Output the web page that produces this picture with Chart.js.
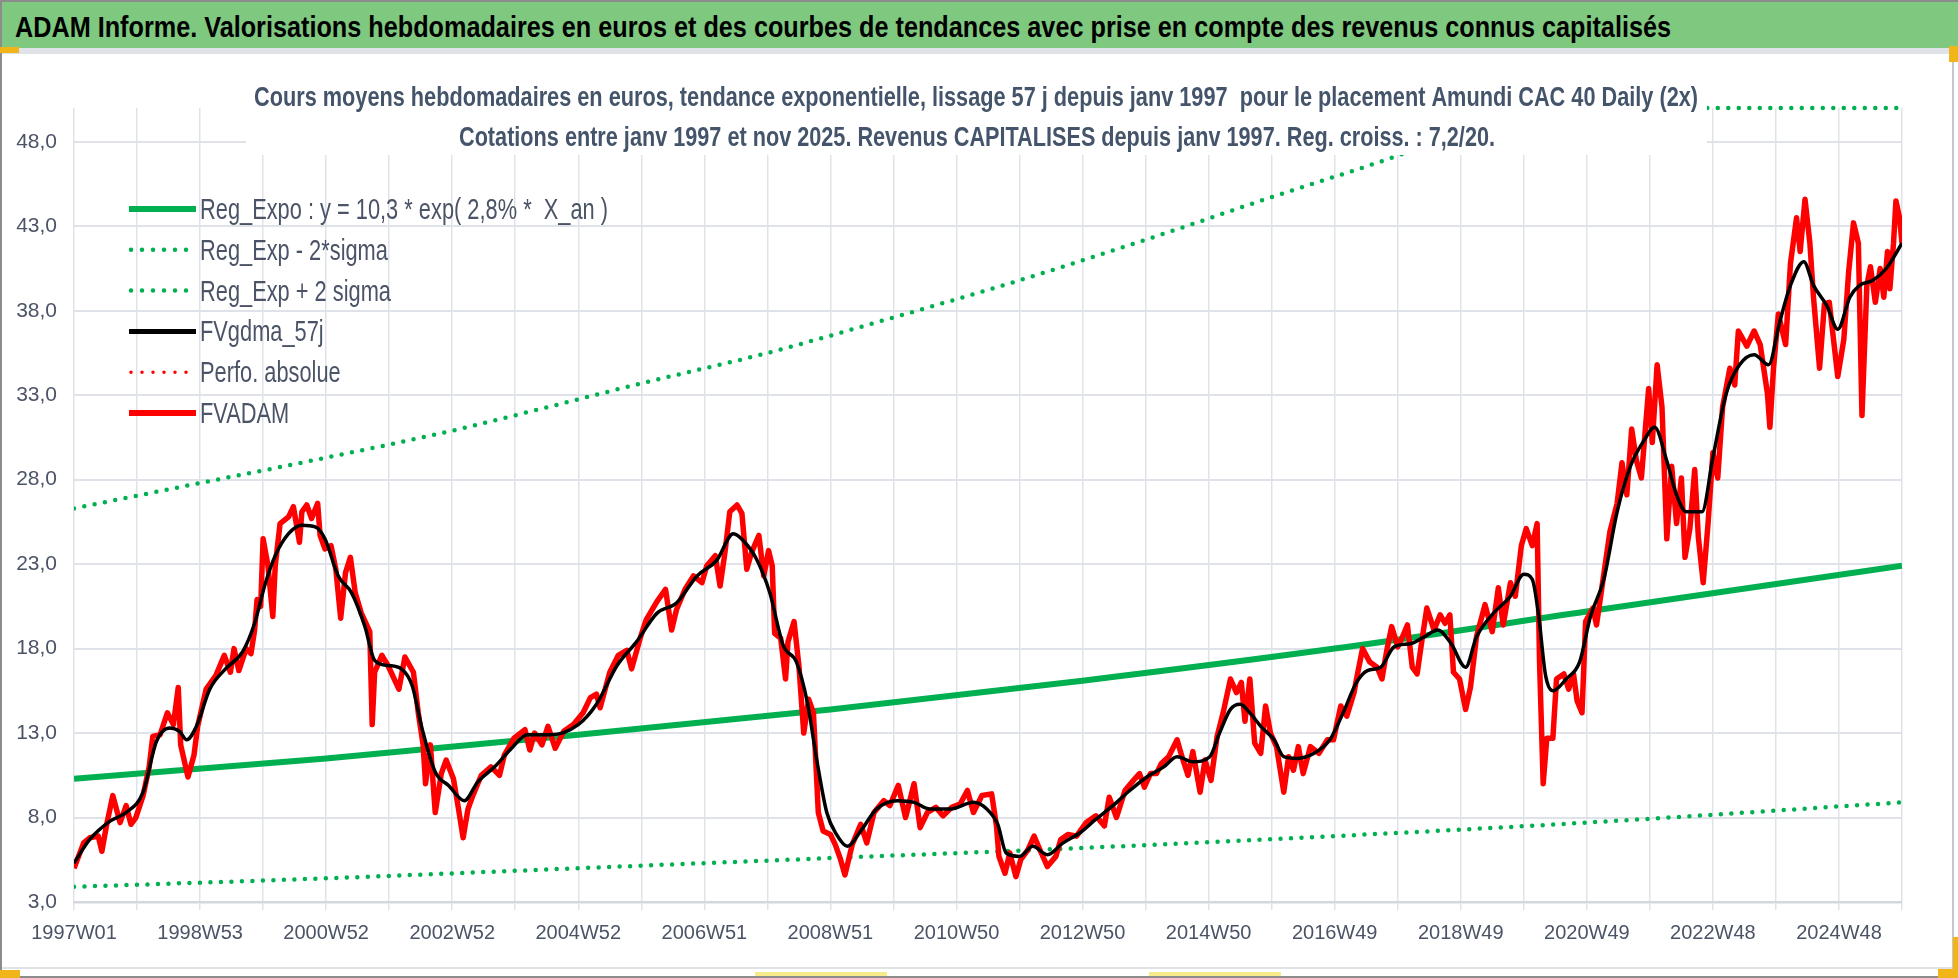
<!DOCTYPE html>
<html>
<head>
<meta charset="utf-8">
<title>ADAM Informe - Amundi CAC 40 Daily (2x)</title>
<script src="https://cdn.jsdelivr.net/npm/chart.js@4.4.1/dist/chart.umd.min.js"></script>
<style>
  html, body { margin: 0; padding: 0; background: #fff; overflow: hidden; }
  #wrap { position: relative; width: 1958px; height: 978px; }
  #c { position: absolute; left: 0; top: 0; }
  #header { position: absolute; left: 0; top: 0; width: 1958px; height: 48px; box-sizing: border-box;
            background: #7ec87f; border-top: 2px solid #8c8c8c; }
  #header span { position: absolute; left: 15px; top: 10px; white-space: nowrap; color: #000;
                 font: bold 30px 'Liberation Sans Narrow', 'Liberation Sans', sans-serif; line-height: 30px;
                 transform-origin: 0 0; }
  .bar { position: absolute; }
</style>
</head>
<body>
<div id="wrap">
  <canvas id="c" width="1958" height="978"></canvas>
  <div id="header"><span id="htext">ADAM Informe. Valorisations hebdomadaires en euros et des courbes de tendances avec prise en compte des revenus connus capitalisés</span></div>
  <div class="bar" style="left:0;top:48px;width:1958px;height:6px;background:#dfe3e8"></div>
  <div class="bar" style="left:0;top:0;width:2px;height:978px;background:#8c8c8c"></div>
  <div class="bar" style="left:1952px;top:48px;width:2px;height:930px;background:#c4c8cd"></div>
  <div class="bar" style="left:2px;top:967px;width:1950px;height:2px;background:#dfe3e8"></div>
  <div class="bar" style="left:0;top:976px;width:1958px;height:2px;background:#8c8c8c"></div>
  <div class="bar" style="left:0;top:47px;width:19px;height:6px;background:#f2b519"></div>
  <div class="bar" style="left:1949px;top:46px;width:9px;height:16px;background:#f2b519"></div>
  <div class="bar" style="left:1953px;top:937px;width:5px;height:41px;background:#f2b519"></div>
  <div class="bar" style="left:1938px;top:969px;width:20px;height:9px;background:#f2b519"></div>
  <div class="bar" style="left:0;top:970px;width:20px;height:8px;background:#f2b519"></div>
  <div class="bar" style="left:755px;top:972px;width:132px;height:4px;background:#f7ec8a"></div>
  <div class="bar" style="left:1149px;top:972px;width:132px;height:4px;background:#f7ec8a"></div>
</div>
<script>
// ================= DATA =================
const titleLines = [
  "Cours moyens hebdomadaires en euros, tendance exponentielle, lissage 57 j depuis janv 1997  pour le placement Amundi CAC 40 Daily (2x)",
  "Cotations entre janv 1997 et nov 2025. Revenus CAPITALISES depuis janv 1997. Reg. croiss. : 7,2/20."
];
const seriesLabels = [
  "Reg_Expo : y = 10,3 * exp( 2,8% *  X_an )",
  "Reg_Exp - 2*sigma",
  "Reg_Exp + 2 sigma",
  "FVgdma_57j",
  "Perfo. absolue",
  "FVADAM"
];

// x axis: week number since 1997W01, a label every 104 weeks
const xTickLabels = ["1997W01", "1998W53", "2000W52", "2002W52", "2004W52", "2006W51", "2008W51",
  "2010W50", "2012W50", "2014W50", "2016W49", "2018W49", "2020W49", "2022W48", "2024W48"];
const yTickValues = [3, 8, 13, 18, 23, 28, 33, 38, 43, 48];

// FVADAM (weekly price, red)
const adamWeeks = [
  0, 8, 13, 20, 23, 27, 32, 38, 43, 47,
  51, 57, 62, 65, 71, 77, 82, 86, 88, 94,
  99, 102, 109, 117, 124, 129, 132, 136, 142, 146,
  149, 151, 154, 156, 160, 164, 166, 170, 177, 181,
  186, 188, 192, 196, 201, 203, 207, 212, 216, 220,
  224, 228, 232, 237, 244, 246, 248, 254, 259, 268,
  273, 280, 284, 288, 290, 294, 298, 303, 307, 313,
  317, 321, 325, 329, 336, 344, 351, 355, 363, 372,
  376, 380, 386, 391, 397, 404, 412, 420, 426, 431,
  434, 442, 449, 456, 460, 467, 472, 481, 488, 493,
  497, 504, 511, 518, 522, 529, 533, 537, 541, 547,
  551, 555, 559, 565, 569, 573, 576, 578, 583, 587,
  589, 594, 598, 602, 606, 610, 614, 618, 624, 628,
  632, 636, 642, 649, 654, 660, 668, 673, 680, 686,
  693, 698, 704, 711, 717, 724, 731, 737, 742, 749,
  757, 761, 763, 768, 772, 777, 781, 787, 792, 798,
  803, 810, 814, 820, 827, 835, 843, 850, 854, 860,
  867, 874, 879, 883, 888, 893, 897, 903, 910, 914,
  919, 923, 929, 933, 938, 943, 948, 954, 959, 963,
  966, 970, 974, 979, 983, 987, 992, 998, 1002, 1006,
  1010, 1014, 1020, 1027, 1034, 1039, 1045, 1050, 1056, 1058,
  1063, 1069, 1075, 1079, 1083, 1087, 1092, 1096, 1100, 1104,
  1108, 1112, 1116, 1122, 1127, 1131, 1135, 1138, 1143, 1148,
  1152, 1157, 1164, 1170, 1175, 1179, 1185, 1189, 1194, 1198,
  1203, 1207, 1209, 1212, 1215, 1220, 1223, 1229, 1233, 1237,
  1240, 1244, 1247, 1253, 1256, 1262, 1267, 1273, 1277, 1281,
  1285, 1289, 1293, 1299, 1302, 1306, 1310, 1314, 1318, 1322,
  1326, 1329, 1333, 1337, 1340, 1344, 1348, 1352, 1356, 1360,
  1366, 1370, 1373, 1380, 1386, 1391, 1397, 1399, 1402, 1406,
  1412, 1416, 1421, 1424, 1428, 1432, 1435, 1440, 1444, 1448,
  1455, 1460, 1464, 1468, 1472, 1475, 1479, 1482, 1486, 1490,
  1493, 1496, 1498, 1501, 1503, 1506, 1508
];
const fvadam = [
  5.0, 6.5, 6.8, 6.9, 6.0, 7.6, 9.3, 7.7, 8.7, 7.6,
  8.0, 9.3, 11.0, 12.8, 12.9, 14.2, 13.5, 15.7, 12.3, 10.4,
  11.7, 13.4, 15.6, 16.4, 17.6, 16.6, 18.0, 16.7, 18.0, 17.7,
  19.1, 20.9, 20.5, 24.5, 22.9, 19.9, 22.9, 25.4, 25.8, 26.4,
  24.3, 26.1, 26.5, 25.7, 26.6, 24.7, 23.9, 24.1, 22.7, 19.8,
  22.5, 23.4, 21.3, 20.1, 19.0, 13.5, 16.6, 17.6, 17.0, 15.6,
  17.5, 16.6, 14.2, 12.3, 10.0, 12.3, 8.3, 10.6, 11.4, 10.3,
  8.6, 6.8, 8.5, 9.3, 10.5, 11.0, 10.5, 11.7, 12.7, 13.2,
  12.0, 13.0, 12.3, 13.4, 12.1, 13.1, 13.5, 14.2, 15.1, 15.3,
  14.5, 16.6, 17.6, 17.9, 16.8, 18.6, 19.7, 20.8, 21.5, 19.1,
  20.3, 21.5, 22.3, 21.9, 22.9, 23.5, 21.7, 23.7, 26.1, 26.5,
  26.0, 22.7, 23.7, 24.7, 22.3, 23.8, 22.9, 18.9, 18.6, 16.2,
  18.4, 19.6, 17.0, 13.0, 15.0, 14.2, 8.3, 7.2, 7.0, 6.4,
  5.6, 4.6, 6.4, 7.6, 6.5, 8.3, 9.0, 8.7, 9.9, 8.0,
  10.0, 7.4, 8.3, 8.6, 8.1, 8.6, 8.8, 9.6, 8.3, 9.3,
  9.4, 7.5, 5.7, 4.7, 5.9, 4.5, 5.5, 6.1, 6.9, 5.9,
  5.1, 5.7, 6.7, 7.0, 6.9, 7.7, 8.1, 7.5, 9.2, 8.0,
  9.6, 10.2, 10.6, 9.8, 10.6, 10.6, 11.2, 11.6, 12.6, 11.6,
  10.5, 11.9, 9.5, 11.4, 10.2, 12.8, 14.2, 16.2, 15.4, 16.0,
  13.7, 16.2, 12.4, 11.8, 14.6, 13.0, 12.2, 9.5, 11.6, 10.8,
  12.2, 10.6, 12.2, 11.8, 12.6, 12.6, 14.6, 14.0, 15.4, 16.2,
  18.0, 17.2, 16.9, 16.2, 17.9, 19.3, 18.1, 18.7, 19.4, 16.9,
  16.5, 18.5, 20.4, 19.1, 20.0, 19.5, 20.0, 16.6, 16.2, 14.4,
  15.7, 18.7, 20.6, 19.0, 21.6, 19.4, 21.9, 21.1, 24.1, 25.1,
  24.1, 25.4, 17.2, 10.0, 12.7, 12.7, 16.2, 16.5, 15.6, 16.5,
  14.9, 14.2, 19.6, 20.4, 19.4, 22.4, 24.9, 26.6, 29.0, 27.1,
  31.0, 29.1, 28.1, 33.4, 30.2, 34.8, 32.3, 24.5, 28.8, 25.4,
  28.1, 23.4, 25.1, 28.6, 24.6, 21.9, 25.4, 29.6, 28.1, 32.3,
  34.6, 33.6, 36.8, 35.9, 36.8, 36.0, 33.1, 31.1, 34.6, 37.8,
  36.0, 40.8, 43.5, 41.5, 44.6, 42.0, 38.8, 34.6, 38.4, 38.5,
  34.1, 36.3, 40.3, 43.2, 42.0, 31.8, 39.5, 40.6, 38.5, 40.5,
  38.8, 41.5, 39.3, 42.0, 44.5, 43.5, 42.0
];

// FVgdma_57j (smoothed, black)
const gdmaWeeks = [
  0, 13, 30, 43, 57, 68, 79, 87, 93, 101,
  112, 125, 139, 149, 158, 166, 177, 188, 199, 207,
  218, 229, 240, 248, 259, 270, 279, 287, 298, 309,
  322, 333, 347, 361, 374, 393, 416, 431, 448, 464,
  481, 497, 514, 530, 544, 552, 563, 574, 585, 596,
  605, 613, 621, 629, 638, 649, 662, 679, 693, 706,
  723, 742, 753, 762, 769, 780, 791, 803, 816, 830,
  843, 857, 871, 885, 899, 910, 923, 937, 945, 954,
  962, 970, 979, 990, 998, 1009, 1023, 1036, 1047, 1058,
  1067, 1078, 1089, 1103, 1114, 1125, 1136, 1148, 1157, 1171,
  1185, 1196, 1203, 1208, 1214, 1220, 1231, 1242, 1251, 1262,
  1273, 1284, 1295, 1304, 1314, 1322, 1330, 1343, 1352, 1363,
  1374, 1386, 1398, 1407, 1416, 1427, 1435, 1446, 1455, 1465,
  1473, 1484, 1495, 1508
];
const fvgdma = [
  5.3, 6.7, 7.8, 8.3, 9.5, 12.5, 13.3, 13.1, 12.6, 13.4,
  15.6, 16.8, 17.8, 19.5, 21.9, 23.5, 24.8, 25.3, 25.2, 24.5,
  22.3, 21.3, 19.3, 17.3, 17.0, 16.8, 15.8, 13.3, 10.7, 9.9,
  9.0, 10.1, 11.0, 12.1, 12.9, 12.9, 13.5, 14.7, 17.0, 18.4,
  20.1, 20.7, 22.3, 23.2, 24.8, 24.4, 23.3, 21.3, 18.2, 17.2,
  14.8, 11.3, 8.3, 7.0, 6.3, 7.2, 8.5, 9.0, 8.9, 8.5,
  8.5, 8.9, 8.5, 7.6, 5.9, 5.7, 6.3, 5.8, 6.5, 7.1,
  7.9, 8.7, 9.6, 10.4, 11.0, 11.6, 11.3, 11.6, 13.0, 14.4,
  14.7, 14.2, 13.4, 12.6, 11.6, 11.5, 11.8, 12.6, 14.2, 16.0,
  16.7, 16.9, 18.1, 18.3, 18.7, 19.1, 18.3, 16.9, 18.7, 20.1,
  21.1, 22.4, 22.1, 20.1, 16.4, 15.5, 16.2, 17.2, 19.9, 22.1,
  26.1, 28.8, 30.3, 31.1, 29.1, 27.1, 26.1, 26.1, 29.3, 33.1,
  34.8, 35.4, 34.8, 37.3, 39.5, 40.9, 39.5, 38.3, 36.9, 38.8,
  39.5, 39.8, 40.5, 42.0
];

// trend curves (green)
const trendWeeks = [0, 208, 416, 624, 832, 1040, 1248, 1508];
const regExpo   = [10.3, 11.5, 12.9, 14.4, 16.1, 18.0, 20.2, 22.9];
const regLow    = [3.9, 4.4, 5.0, 5.6, 6.2, 6.9, 7.7, 8.9];
const highWeeks = [0, 104, 208, 312, 380, 468, 572, 676, 780, 884, 987, 1093, 1197, 1352, 1508];
const regHigh   = [26.3, 27.8, 29.3, 30.9, 32.1, 33.7, 35.5, 37.6, 39.8, 42.2, 44.7, 47.2, 50.0, 50.0, 50.0];

// Perfo. absolue: in the legend only, no visible trace
const perfoAbsolue = [];

// ================= HELPERS =================
const NARROW = "'Liberation Sans Narrow', 'Liberation Sans', sans-serif";
const TITLE_COL = "#44546a";
const LABEL_COL = "#4b5366";
const GREEN = "#00b050";

function toPoints(xs, ys) {
  return xs.map((w, i) => ({ x: w, y: ys[i] }));
}

// draw text squeezed horizontally to a given width
function fitText(ctx, text, x, y, width, align) {
  const w = ctx.measureText(text).width;
  ctx.save();
  ctx.translate(x, y);
  ctx.scale(width / w, 1);
  ctx.textAlign = align;
  ctx.fillText(text, 0, 0);
  ctx.restore();
}

// header text fitted to its width
(function () {
  const span = document.getElementById("htext");
  const m = document.createElement("canvas").getContext("2d");
  m.font = "bold 30px " + NARROW;
  const w = m.measureText(span.textContent).width;
  span.style.transform = "scaleX(" + (1656 / w) + ")";
})();

// ================= OVERLAY: title box + legend =================
const legendWidths = [6, 4.5, 4.5, 5, 3.5, 6];

const overlay = {
  id: "overlay",
  afterDraw(chart) {
    const ctx = chart.ctx;
    ctx.save();

    // title box sits over the plot area like in the workbook
    ctx.fillStyle = "#fff";
    ctx.fillRect(246, 58, 1461, 97);
    ctx.fillStyle = TITLE_COL;
    ctx.font = "bold 28px " + NARROW;
    ctx.textBaseline = "alphabetic";
    fitText(ctx, titleLines[0], 976, 106, 1444, "center");
    fitText(ctx, titleLines[1], 977, 146, 1036, "center");

    // legend, top left inside the plot
    ctx.font = "29px " + NARROW;
    const scaleX = 408 / ctx.measureText(chart.data.datasets[0].label).width;
    chart.data.datasets.forEach((ds, i) => {
      const y = 209 + i * 40.8;
      ctx.beginPath();
      ctx.strokeStyle = ds.borderColor;
      ctx.lineWidth = legendWidths[i];
      if (ds.borderDash) {
        ctx.setLineDash([0, 11]);
        ctx.lineCap = "round";
        ctx.moveTo(131, y);
      } else {
        ctx.setLineDash([]);
        ctx.lineCap = "butt";
        ctx.moveTo(129, y);
      }
      ctx.lineTo(196, y);
      ctx.stroke();
      ctx.setLineDash([]);

      ctx.fillStyle = LABEL_COL;
      ctx.save();
      ctx.translate(200, y + 10);
      ctx.scale(scaleX, 1);
      ctx.textAlign = "left";
      ctx.fillText(ds.label, 0, 0);
      ctx.restore();
    });
    ctx.restore();
  }
};

// ================= CHART =================
const dotted = { borderDash: [0, 10.5], borderCapStyle: "round" };

const datasets = [
  { label: seriesLabels[0], data: toPoints(trendWeeks, regExpo), borderColor: GREEN, borderWidth: 6,
    cubicInterpolationMode: "monotone", order: 3 },
  Object.assign({ label: seriesLabels[1], data: toPoints(trendWeeks, regLow), borderColor: GREEN, borderWidth: 4.5,
    cubicInterpolationMode: "monotone", order: 4 }, dotted),
  Object.assign({ label: seriesLabels[2], data: toPoints(highWeeks, regHigh), borderColor: GREEN, borderWidth: 4.5,
    cubicInterpolationMode: "monotone", order: 4, clip: { left: 0, top: 3, right: 0, bottom: 0 } }, dotted),
  { label: seriesLabels[3], data: toPoints(gdmaWeeks, fvgdma), borderColor: "#000000", borderWidth: 3.5,
    cubicInterpolationMode: "monotone", order: 0 },
  { label: seriesLabels[4], data: perfoAbsolue, borderColor: "#ff0000", borderWidth: 3,
    borderDash: [0, 9], borderCapStyle: "round", order: 2 },
  { label: seriesLabels[5], data: toPoints(adamWeeks, fvadam), borderColor: "#ff0000", borderWidth: 5.5,
    borderJoinStyle: "round", order: 1 }
];

new Chart(document.getElementById("c"), {
  type: "line",
  data: { datasets },
  options: {
    responsive: false,
    animation: false,
    layout: { padding: { top: 108, right: 56, bottom: 36, left: 0 } },
    elements: { point: { radius: 0 }, line: { tension: 0, fill: false } },
    plugins: {
      legend: { display: false },
      title: { display: false },
      tooltip: { enabled: false }
    },
    scales: {
      x: {
        type: "linear",
        min: 0,
        max: 1508,
        afterBuildTicks: (scale) => {
          const t = [];
          for (let w = 0; w <= 1508; w += 52) t.push({ value: w });
          scale.ticks = t;
        },
        afterFit: (scale) => { scale.height = 40; },
        grid: { color: "#dfe3e9", lineWidth: 1.5, tickLength: 8, drawTicks: true },
        border: { color: "#d3d7de", width: 2.5 },
        ticks: {
          autoSkip: false, maxRotation: 0, minRotation: 0, padding: 11,
          color: LABEL_COL, font: { family: NARROW, size: 20 },
          callback: (v) => (v % 104 === 0 ? xTickLabels[v / 104] : "")
        }
      },
      y: {
        min: 3,
        max: 50,
        afterBuildTicks: (scale) => { scale.ticks = yTickValues.map((v) => ({ value: v })); },
        afterFit: (scale) => { scale.width = 74; },
        grid: { color: "#dfe3e9", lineWidth: 2, drawTicks: false },
        border: { display: false },
        ticks: {
          padding: 17, color: LABEL_COL, font: { family: NARROW, size: 21 },
          callback: (v) => v.toFixed(1).replace(".", ",")
        }
      }
    }
  },
  plugins: [overlay]
});
</script>
</body>
</html>
